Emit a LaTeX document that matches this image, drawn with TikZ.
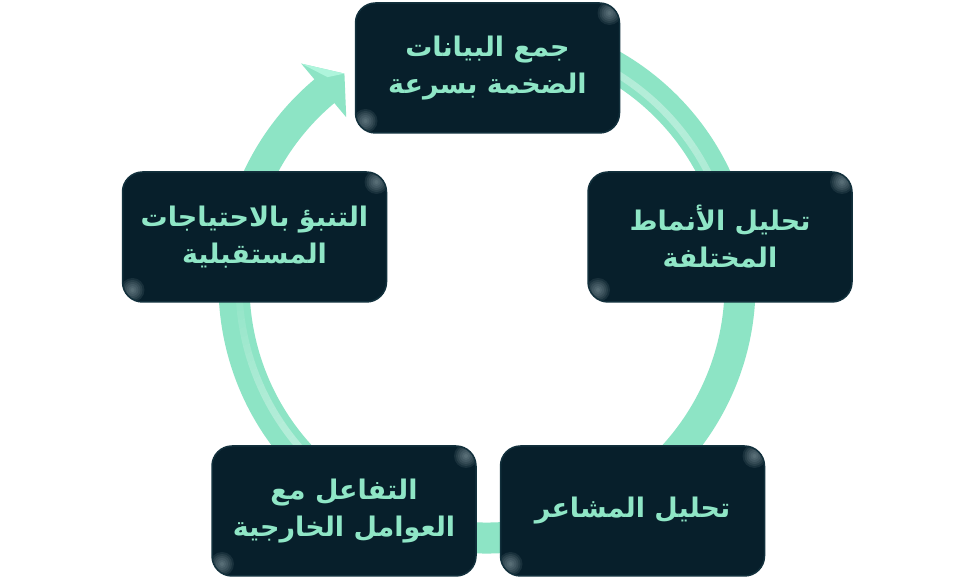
\documentclass[tikz,border=0pt]{standalone}
\usepackage{fontspec}
\newfontfamily\arabicfont[Script=Arabic]{DejaVu Sans}
\TeXXeTstate=1
\definecolor{ringc}{HTML}{8DE4C5}
\definecolor{boxc}{HTML}{071F2B}
\definecolor{rimc}{HTML}{12303C}
\definecolor{txtc}{HTML}{8FE6C6}
\definecolor{gloss}{HTML}{B5C6CC}
\definecolor{facet}{HTML}{AEF5DC}
\begin{document}
\begin{tikzpicture}[x=1pt,y=1pt,
  stepbox/.style={rectangle, rounded corners=20pt, minimum width=264pt, minimum height=130pt,
    fill=boxc, draw=rimc, line width=1.5pt, text=txtc, align=center, inner sep=0pt,
    font=\arabicfont\bfseries\fontsize{27}{37}\selectfont,
    path picture={
      \foreach \r in {12,10,...,2}{
        \fill[gloss, opacity=0.10] ([shift={(-10,-10)}]path picture bounding box.north east) circle (\r);
        \fill[gloss, opacity=0.10] ([shift={(10,12)}]path picture bounding box.south west) circle (\r);
      }
    }},
  ringline/.style={draw=ringc, line width=31pt},
  headfill/.style={fill=ringc}]
\fill[white] (0,0) rectangle (975,580);
\path[use as bounding box] (0,0) rectangle (975,580);
\coordinate (c) at (487,295);
% ring
\draw[ringline] ([shift={(100:253)}]c) arc[start angle=100, end angle=-231, radius=253];
\foreach \a in {100,98,...,-228}{
  \pgfmathsetmacro\op{max(0,0.35*cos(2*(\a-45)))}
  \draw[line width=7pt, draw=white, opacity=\op] ([shift={(\a:248)}]c) arc[start angle=\a, delta angle=-2, radius=248];
}
% arrow head
\coordinate (hw1) at ([shift={(130:289)}]c);
\coordinate (htip) at ([shift={(124:255)}]c);
\coordinate (hw2) at ([shift={(130:219)}]c);
\coordinate (hmid) at ([shift={(127.5:262)}]c);
\fill[headfill] (hw1) -- (htip) -- (hw2) -- cycle;
\fill[facet] (hw1) -- (htip) -- (hmid) -- cycle;
% boxes
\node[stepbox] (top) at (487.5,512) {\beginR جمع البيانات\endR\\\beginR الضخمة بسرعة\endR};
\node[stepbox] (ru) at (720,343) {\beginR تحليل الأنماط\endR\\\beginR المختلفة\endR};
\node[stepbox] (rl) at (632.5,69) {\beginR تحليل المشاعر\endR};
\node[stepbox] (ll) at (344,69) {\beginR التفاعل مع\endR\\\beginR العوامل الخارجية\endR};
\node[stepbox] (lu) at (254.5,343) {\beginR التنبؤ بالاحتياجات\endR\\\beginR المستقبلية\endR};
\end{tikzpicture}
\end{document}
